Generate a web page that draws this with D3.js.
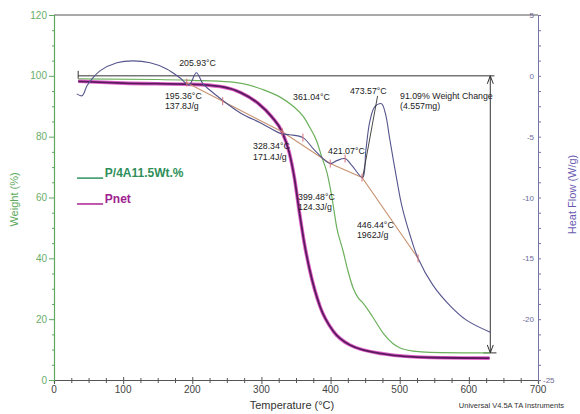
<!DOCTYPE html>
<html>
<head>
<meta charset="utf-8">
<script src="https://cdnjs.cloudflare.com/ajax/libs/d3/7.8.5/d3.min.js"></script>
<style>
body{margin:0;background:#fff;}
svg{display:block;font-family:'Liberation Sans',Arial,sans-serif;}
</style>
</head>
<body>
<div id="chart"></div>
<script>
// TGA: P/4A11.5Wt.% (green) - temperature (°C) / weight (%)
const greenT = [35, 150, 200, 255, 302, 327, 346, 361, 370, 380, 387, 395, 402, 409, 418, 425, 433, 440, 447, 461, 476, 490, 500, 520, 544, 630];
const greenW = [99, 98.8, 98.5, 98, 95.5, 93, 90, 86.5, 83, 78.5, 73.5, 68, 60, 50, 42.5, 36, 30, 27, 25.3, 20.7, 15.4, 12, 10.6, 9.5, 9.1, 8.9];

// TGA: Pnet (magenta)
const pnetT = [35, 100, 200, 240, 270, 295, 315, 330, 340, 348, 355, 362, 370, 385, 404, 428, 476, 544, 630];
const pnetW = [98.2, 97.6, 97.2, 96.5, 94.5, 91, 86.5, 81.5, 75, 66, 55, 45, 36, 24, 16, 11.5, 8.6, 7.4, 7.2];

// DSC heat flow (W/g)
const dscT = [33, 40.5, 47.7, 55, 66.5, 91, 114, 139, 163, 182, 195.4, 205.9, 215.5, 230, 269, 301, 328.3, 341, 360, 377.5, 399.5, 409, 421, 431, 446.4, 451, 457, 464, 473.6, 479, 486, 496, 503, 515, 526.5, 548, 573, 597, 631];
const dscHF = [-1.48, -1.64, -0.82, -0.25, 0.41, 1.07, 1.23, 1.07, 0.57, -0.16, -0.74, 0.25, -0.66, -1.39, -3.03, -3.93, -4.75, -4.84, -5.08, -6.15, -7.21, -6.97, -6.8, -7.38, -8.36, -6.15, -3.69, -2.54, -2.3, -3.03, -5.33, -8.6, -10.66, -13.1, -15.0, -17.2, -18.9, -20.1, -21.07];

// integration baseline on the DSC trace
const baseT = [190, 330, 399.5, 445.5, 526.5];
const baseHF = [-0.5, -4.6, -7.21, -8.36, -15.0];
const baseTickT = [192, 244, 330, 399.5, 445.5, 526.5];
const dscTickT = [360, 421];

// weight change step
const stepFrom = 100, stepTo = 8.91, stepT = 631, stepStartT = 35, stepEndT = 637;

// annotations (anchor in temperature / weight units)
const notes = [
  {lines: ['205.93°C'], t: 181, w: 103.2},
  {lines: ['195.36°C', '137.8J/g'], t: 160.5, w: 92.4},
  {lines: ['361.04°C'], t: 345.7, w: 92.0},
  {lines: ['473.57°C'], t: 428, w: 94.0},
  {lines: ['91.09% Weight Change', '(4.557mg)'], t: 500.4, w: 92.4},
  {lines: ['328.34°C', '171.4J/g'], t: 287.8, w: 75.9},
  {lines: ['421.07°C'], t: 396.3, w: 74.3},
  {lines: ['399.48°C', '124.3J/g'], t: 353, w: 59.2},
  {lines: ['446.44°C', '1962J/g'], t: 438.2, w: 50}
];

const legendNames = ['P/4A11.5Wt.%', 'Pnet'];
const legendW = [66.7, 58.2];

const xTicks = [0, 100, 200, 300, 400, 500, 600, 700];
const yTicks = [0, 20, 40, 60, 80, 100, 120];
const hfTicks = [-25, -20, -15, -10, -5, 0, 5];

const width = 580, height = 414;
const margin = {top: 15, right: 42, bottom: 34, left: 54};

const svg = d3.select('#chart').append('svg')
  .attr('width', width).attr('height', height);

const x = d3.scaleLinear([0, 700], [margin.left, width - margin.right]);
const y = d3.scaleLinear([0, 120], [height - margin.bottom, margin.top]);
const yHF = d3.scaleLinear([-25, 5], [height - margin.bottom, margin.top]);

const axisGrey = '#555';
const green = '#5fa85f';
const slate = '#7575a8';

// top border
svg.append('line')
  .attr('x1', x(0)).attr('x2', x(700)).attr('y1', y(120)).attr('y2', y(120))
  .attr('stroke', axisGrey).attr('stroke-width', 1.2);

// bottom axis
const xMinor = d3.range(0, 701, 25);
const gx = svg.append('g').attr('transform', `translate(0,${y(0)})`);
gx.call(d3.axisBottom(x).tickValues(xMinor).tickSize(3).tickFormat(''));
gx.call(g => g.select('.domain').attr('stroke', axisGrey).attr('stroke-width', 1.2));
gx.selectAll('.tick line').attr('stroke', axisGrey).attr('y1', -2);
gx.selectAll('.tick').filter(d => d % 100 === 0).select('line').attr('y1', -3).attr('y2', 4);
gx.selectAll('.lbl').data(xTicks).join('text').attr('class', 'lbl')
  .attr('x', d => x(d)).attr('y', 13).attr('text-anchor', 'middle')
  .attr('font-size', 10).attr('fill', '#444').text(d => d);

// left axis
const yMinor = d3.range(0, 121, 5);
const gy = svg.append('g').attr('transform', `translate(${x(0)},0)`);
gy.call(d3.axisLeft(y).tickValues(yMinor).tickSize(2).tickFormat(''));
gy.call(g => g.select('.domain').attr('stroke', green).attr('stroke-width', 1.2));
gy.selectAll('.tick line').attr('stroke', green);
gy.selectAll('.tick').filter(d => d % 20 === 0).select('line').attr('x2', -5);
gy.selectAll('.lbl').data(yTicks).join('text').attr('class', 'lbl')
  .attr('x', -7).attr('y', d => y(d) + 3.5).attr('text-anchor', 'end')
  .attr('font-size', 10).attr('fill', '#6aae6a').text(d => d);

// right axis
const hfMinor = d3.range(-25, 5.01, 1.25);
const gr = svg.append('g').attr('transform', `translate(${x(700)},0)`);
gr.call(d3.axisRight(yHF).tickValues(hfMinor).tickSize(3).tickFormat(''));
gr.call(g => g.select('.domain').attr('stroke', slate).attr('stroke-width', 1));
gr.selectAll('.tick line').attr('stroke', slate);
gr.selectAll('.lbl').data(hfTicks).join('text').attr('class', 'lbl')
  .attr('x', d => d === -25 ? 5 : -4).attr('y', d => yHF(d) + 3)
  .attr('text-anchor', d => d === -25 ? 'start' : 'end')
  .attr('font-size', 8).attr('fill', '#6a6a9a').text(d => d);

// axis titles
svg.append('text').attr('x', x(350) - 4).attr('y', height - 5)
  .attr('text-anchor', 'middle').attr('font-size', 11).attr('fill', '#333')
  .text('Temperature (°C)');
svg.append('text').attr('transform', `translate(18,${y(60) + 2}) rotate(-90)`)
  .attr('text-anchor', 'middle').attr('font-size', 11).attr('fill', '#5aa85a')
  .text('Weight (%)');
svg.append('text').attr('transform', `translate(576,${y(61)}) rotate(-90)`)
  .attr('text-anchor', 'middle').attr('font-size', 11).attr('fill', '#6a5ab0')
  .text('Heat Flow (W/g)');
svg.append('text').attr('x', width - 16).attr('y', height - 6)
  .attr('text-anchor', 'end').attr('font-size', 7.5).attr('fill', '#333')
  .text('Universal V4.5A TA Instruments');

// curves
const wLine = d3.line().x(d => x(d[0])).y(d => y(d[1])).curve(d3.curveMonotoneX);
const hLine = d3.line().x(d => x(d[0])).y(d => yHF(d[1])).curve(d3.curveCatmullRom.alpha(0.5));
const hStraight = d3.line().x(d => x(d[0])).y(d => yHF(d[1]));

const greenData = d3.zip(greenT, greenW);
const pnetData = d3.zip(pnetT, pnetW);
const dscData = d3.zip(dscT, dscHF);
const baseData = d3.zip(baseT, baseHF);

// weight change step lines
const stepG = svg.append('g').attr('stroke', '#333').attr('stroke-width', 1).attr('fill', 'none');
stepG.append('line').attr('x1', x(stepStartT)).attr('x2', x(stepEndT))
  .attr('y1', y(stepFrom)).attr('y2', y(stepFrom));
stepG.append('line').attr('x1', x(stepStartT)).attr('x2', x(stepStartT))
  .attr('y1', y(stepFrom) - 5).attr('y2', y(stepFrom) + 3);
stepG.append('line').attr('x1', x(stepT) - 7).attr('x2', x(stepEndT) + 2)
  .attr('y1', y(stepTo)).attr('y2', y(stepTo));
stepG.append('line').attr('x1', x(stepT)).attr('x2', x(stepT))
  .attr('y1', y(stepFrom)).attr('y2', y(stepTo));
stepG.append('path')
  .attr('d', `M${x(stepT) - 3},${y(stepFrom) + 8}L${x(stepT)},${y(stepFrom)}L${x(stepT) + 3},${y(stepFrom) + 8}`);
stepG.append('path')
  .attr('d', `M${x(stepT) - 3},${y(stepTo) - 8}L${x(stepT)},${y(stepTo)}L${x(stepT) + 3},${y(stepTo) - 8}`);

svg.append('path').datum(greenData).attr('d', wLine)
  .attr('fill', 'none').attr('stroke', '#6cb05c').attr('stroke-width', 1.2);

svg.append('path').datum(pnetData).attr('d', wLine)
  .attr('fill', 'none').attr('stroke', '#e060c8').attr('stroke-width', 3.6);
svg.append('path').datum(pnetData).attr('d', wLine)
  .attr('fill', 'none').attr('stroke', '#5a1a5e').attr('stroke-width', 1.8);

svg.append('path').datum(baseData).attr('d', hStraight)
  .attr('fill', 'none').attr('stroke', '#c99470').attr('stroke-width', 1.1);

svg.append('path').datum(dscData).attr('d', hLine)
  .attr('fill', 'none').attr('stroke', '#55558e').attr('stroke-width', 1.1);

// leader from 473.57 label to onset
svg.append('line')
  .attr('x1', x(468)).attr('y1', y(93.4)).attr('x2', x(446.4)).attr('y2', yHF(-8.36))
  .attr('stroke', '#333').attr('stroke-width', 0.9);

// small tick marks
const interp = (ts, vs, t) => {
  const i = Math.max(1, d3.bisectLeft(ts, t));
  const k = (t - ts[i - 1]) / (ts[i] - ts[i - 1]);
  return vs[i - 1] + k * (vs[i] - vs[i - 1]);
};
svg.selectAll('.btick').data(baseTickT).join('line').attr('class', 'btick')
  .attr('x1', d => x(d)).attr('x2', d => x(d))
  .attr('y1', d => yHF(interp(baseT, baseHF, d)) - 4)
  .attr('y2', d => yHF(interp(baseT, baseHF, d)) + 4)
  .attr('stroke', '#d9707a').attr('stroke-width', 1);
svg.selectAll('.dtick').data(dscTickT).join('line').attr('class', 'dtick')
  .attr('x1', d => x(d)).attr('x2', d => x(d))
  .attr('y1', d => yHF(interp(dscT, dscHF, d)) - 4)
  .attr('y2', d => yHF(interp(dscT, dscHF, d)) + 4)
  .attr('stroke', '#d9707a').attr('stroke-width', 1);

// annotations
const noteG = svg.selectAll('.note').data(notes).join('text').attr('class', 'note')
  .attr('x', d => x(d.t)).attr('y', d => y(d.w))
  .attr('font-size', 8.8).attr('fill', '#222');
noteG.selectAll('tspan').data(d => d.lines.map(l => ({l, t: d.t})))
  .join('tspan').attr('x', d => x(d.t)).attr('dy', (d, i) => i === 0 ? 0 : 10.5)
  .text(d => d.l);

// legend
const legendColors = ['#2f8f5a', '#a0208f'];
const leg = svg.selectAll('.leg').data(legendNames).join('g').attr('class', 'leg');
leg.append('line')
  .attr('x1', x(33.3)).attr('x2', x(71)).attr('y1', (d, i) => y(legendW[i]) + 1).attr('y2', (d, i) => y(legendW[i]) + 1)
  .attr('stroke', (d, i) => i === 0 ? '#3a9a6a' : '#b03098').attr('stroke-width', 1.6);
leg.append('text')
  .attr('x', x(73.5)).attr('y', (d, i) => y(legendW[i]))
  .attr('font-size', 12).attr('font-weight', 'bold')
  .attr('fill', (d, i) => legendColors[i]).text(d => d);
</script>
</body>
</html>
